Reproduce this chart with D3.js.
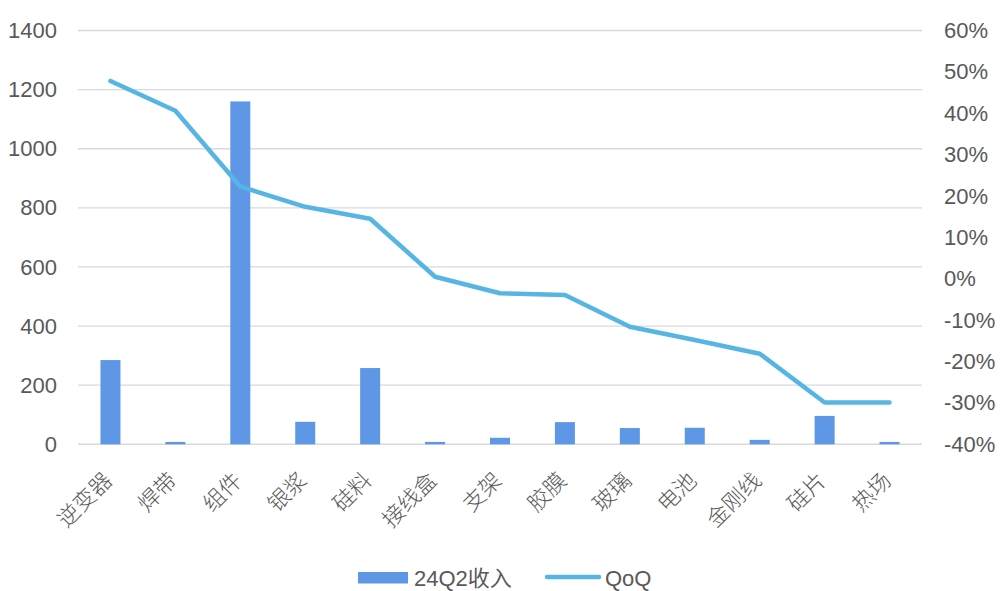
<!DOCTYPE html>
<html>
<head>
<meta charset="utf-8">
<script src="https://cdn.jsdelivr.net/npm/d3@7"></script>
<style>
  html, body { margin: 0; padding: 0; background: #ffffff; }
  svg { display: block; }
  text { font-family: "Liberation Sans", Arial, "Noto Sans CJK SC", sans-serif; fill: #595959; }
  .cat { font-family: "Noto Sans CJK SC", sans-serif; font-weight: 300; }
</style>
</head>
<body>
<svg id="chart" width="1000" height="591"></svg>
<script>
// Product segments, Q2 2024 revenue and quarter-on-quarter change
const categories = ["逆变器", "焊带", "组件", "银浆", "硅料", "接线盒", "支架", "胶膜", "玻璃", "电池", "金刚线", "硅片", "热场"];
const revenue = [285, 8, 1160, 76, 258, 8, 22, 75, 55, 56, 15, 96, 8];
const qoq = [47.8, 40.6, 22.3, 17.4, 14.5, 0.5, -3.5, -3.9, -11.6, -14.8, -18.1, -29.9, -29.9];
const leftTicks = [0, 200, 400, 600, 800, 1000, 1200, 1400];
const rightTicks = [-40, -30, -20, -10, 0, 10, 20, 30, 40, 50, 60];
const seriesNames = ["24Q2收入", "QoQ"];

const barColor = "#5e97e6";
const lineColor = "#57b5e4";
const gridColor = "#d9d9d9";

const svg = d3.select("#chart");
const plot = { left: 78, right: 922, top: 30.5, bottom: 444.3 };

const x = d3.scaleBand().domain(categories).range([plot.left, plot.right]).paddingInner(0).paddingOuter(0);
const yL = d3.scaleLinear().domain([0, 1400]).range([plot.bottom, plot.top]);
const yR = d3.scaleLinear().domain([-40, 60]).range([plot.bottom, plot.top]);

// horizontal gridlines
svg.append("g").selectAll("line").data(leftTicks).join("line")
  .attr("x1", plot.left).attr("x2", plot.right)
  .attr("y1", d => yL(d)).attr("y2", d => yL(d))
  .attr("stroke", gridColor).attr("stroke-width", d => d === 0 ? 1.6 : 1.3);

// left axis
const leftAxis = svg.append("g").attr("transform", `translate(${plot.left},0)`)
  .call(d3.axisLeft(yL).tickValues(leftTicks).tickSize(0).tickPadding(21).tickFormat(d => String(d)));
leftAxis.select(".domain").remove();
leftAxis.selectAll("text").attr("font-size", 22).style("font-family", "Liberation Sans, Arial, sans-serif").attr("fill", "#595959");

// right axis
const rightAxis = svg.append("g").attr("transform", `translate(${plot.right},0)`)
  .call(d3.axisRight(yR).tickValues(rightTicks).tickSize(0).tickPadding(22).tickFormat(d => d + "%"));
rightAxis.select(".domain").remove();
rightAxis.selectAll("text").attr("font-size", 22).style("font-family", "Liberation Sans, Arial, sans-serif").attr("fill", "#595959");

// bars
const barW = 20;
svg.append("g").selectAll("rect").data(categories).join("rect")
  .attr("x", d => x(d) + x.bandwidth() / 2 - barW / 2)
  .attr("width", barW)
  .attr("y", (d, i) => yL(revenue[i]))
  .attr("height", (d, i) => yL(0) - yL(revenue[i]))
  .attr("fill", barColor);

// QoQ line
const line = d3.line()
  .x((d, i) => x(categories[i]) + x.bandwidth() / 2)
  .y(d => yR(d));
svg.append("path").datum(qoq)
  .attr("d", line)
  .attr("fill", "none")
  .attr("stroke", lineColor)
  .attr("stroke-width", 4.5)
  .attr("stroke-linejoin", "round")
  .attr("stroke-linecap", "round");

// category labels, rotated
svg.append("g").selectAll("text").data(categories).join("text")
  .attr("class", "cat")
  .attr("transform", d => `translate(${x(d) + x.bandwidth() / 2 + 3},482) rotate(-45)`)
  .attr("text-anchor", "end")
  .attr("font-size", 22)
  .text(d => d);

// legend
const lg = svg.append("g");
lg.append("rect").attr("x", 358).attr("y", 572).attr("width", 50).attr("height", 11.5).attr("fill", barColor);
lg.append("text").attr("x", 414).attr("y", 586).attr("font-size", 22)
  .style("font-family", "Liberation Sans, Arial, 'Noto Sans CJK SC', sans-serif").text(seriesNames[0]);
lg.append("line").attr("x1", 547).attr("x2", 599).attr("y1", 577).attr("y2", 577)
  .attr("stroke", lineColor).attr("stroke-width", 4.5).attr("stroke-linecap", "round");
lg.append("text").attr("x", 605).attr("y", 586).attr("font-size", 22).text(seriesNames[1]);
</script>
</body>
</html>
